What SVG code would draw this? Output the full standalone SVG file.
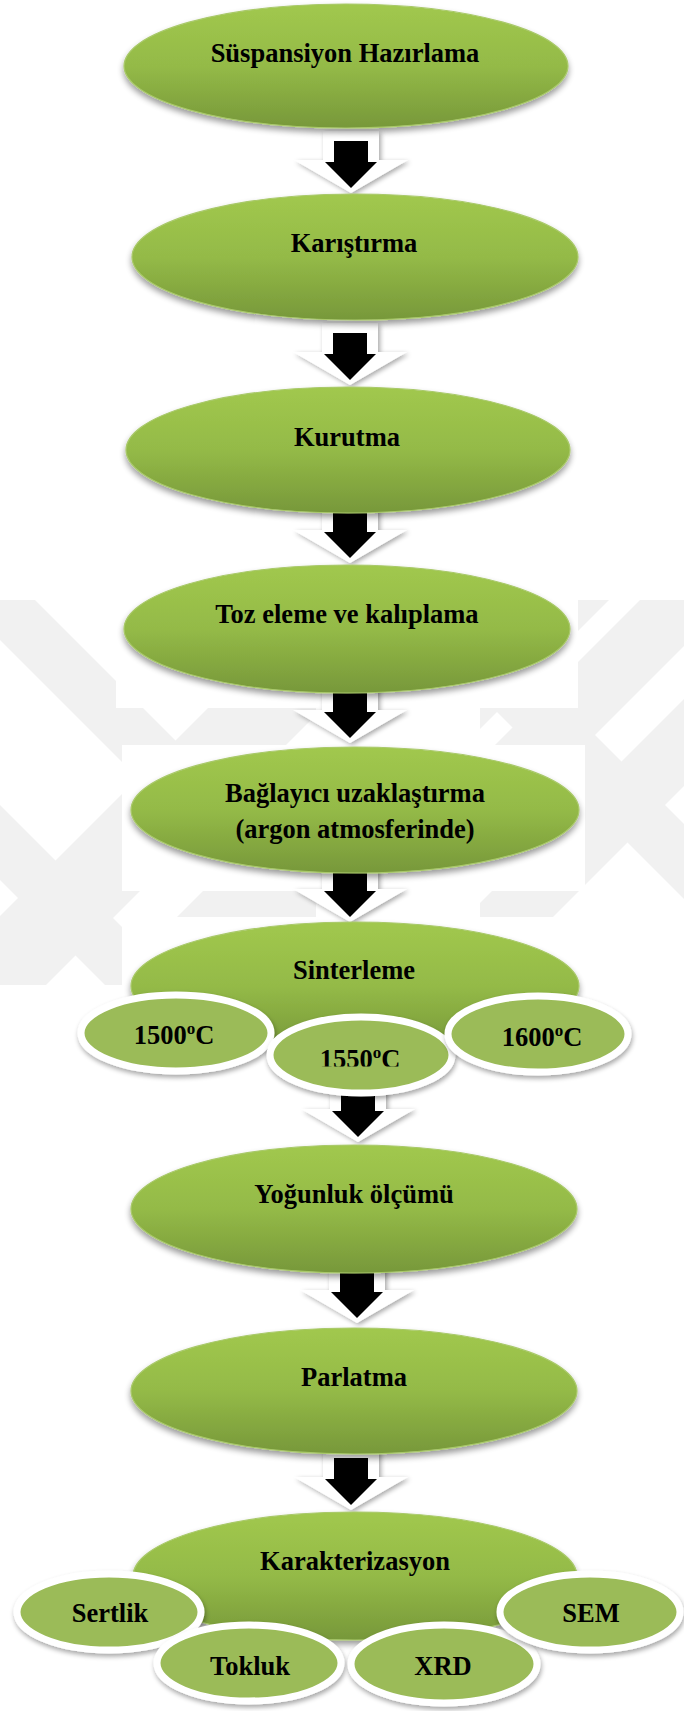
<svg xmlns="http://www.w3.org/2000/svg" width="684" height="1711" viewBox="0 0 684 1711">
<style>
.t{font-family:"Liberation Serif","Times New Roman",serif;font-weight:bold;font-size:26.5px;text-anchor:middle;fill:#000}
.main{fill:url(#g);stroke:#a9c96a;stroke-width:1.2;filter:url(#sh)}
.sub{fill:#9bbb59;stroke:#fff;stroke-width:7;filter:url(#sh2)}
.aw{fill:#fff;filter:url(#ash)}
.ab{fill:#000}
.wm{fill:#f1f1f1}
.wr{fill:#fff}
</style>
<defs>
<linearGradient id="g" x1="0" y1="0" x2="0" y2="1">
<stop offset="0" stop-color="#a1c84e"/>
<stop offset="0.5" stop-color="#94ba47"/>
<stop offset="1" stop-color="#77983a"/>
</linearGradient>
<filter id="sh" x="-10%" y="-15%" width="120%" height="140%">
<feGaussianBlur in="SourceAlpha" stdDeviation="3"/>
<feOffset dx="0" dy="4"/>
<feComponentTransfer><feFuncA type="linear" slope="0.4"/></feComponentTransfer>
<feMerge><feMergeNode/><feMergeNode in="SourceGraphic"/></feMerge>
</filter>
<filter id="sh2" x="-15%" y="-20%" width="130%" height="150%">
<feGaussianBlur in="SourceAlpha" stdDeviation="2.5"/>
<feOffset dx="1" dy="3"/>
<feComponentTransfer><feFuncA type="linear" slope="0.35"/></feComponentTransfer>
<feMerge><feMergeNode/><feMergeNode in="SourceGraphic"/></feMerge>
</filter>
<filter id="ash" x="-30%" y="-30%" width="160%" height="160%">
<feGaussianBlur in="SourceAlpha" stdDeviation="2.5"/>
<feOffset dx="2" dy="2"/>
<feComponentTransfer><feFuncA type="linear" slope="0.35"/></feComponentTransfer>
<feMerge><feMergeNode/><feMergeNode in="SourceGraphic"/></feMerge>
</filter>
<clipPath id="wmclip"><rect x="0" y="600" width="684" height="385"/></clipPath>
<clipPath id="c1550"><rect x="280" y="1000" width="160" height="66.5"/></clipPath>
<path id="arrowW" d="M-28,-62 H28 V-33 H57 L0,0 L-57,-33 H-28 Z"/>
<path id="arrowB" d="M-17,-52 H17 V-31 H26 L0,-5 L-26,-31 H-17 Z"/>
</defs>
<rect width="684" height="1711" fill="#fff"/>
<g id="watermark">
<g clip-path="url(#wmclip)">
<polygon class="wm" points="655,585 745,585 345,985 255,985"/>
<polygon class="wm" points="331,585 446,585 46,985 -69,985"/>
<polygon class="wm" points="509,585 624,585 224,985 109,985"/>
<polygon class="wm" points="798,585 885,585 485,985 398,985"/>
<polygon class="wm" points="-55,585 20,585 420,985 345,985"/>
<polygon class="wm" points="370,585 445,585 845,985 770,985"/>
<polygon class="wm" points="-295,585 -220,585 180,985 105,985"/>
</g>
<rect class="wr" x="116" y="560" width="462" height="148"/>
<rect class="wr" x="316" y="707" width="164" height="39"/>
<rect class="wr" x="122" y="745" width="463" height="146"/>
<rect class="wr" x="316" y="890" width="164" height="28"/>
<rect class="wr" x="122" y="917" width="459" height="70"/>
</g>
<g id="connectors">
<g transform="translate(351,193)"><use href="#arrowW" class="aw"/><use href="#arrowB" class="ab"/></g>
<g transform="translate(350,385)"><use href="#arrowW" class="aw"/><use href="#arrowB" class="ab"/></g>
<g transform="translate(350,563)"><use href="#arrowW" class="aw"/><use href="#arrowB" class="ab"/></g>
<g transform="translate(350,743)"><use href="#arrowW" class="aw"/><use href="#arrowB" class="ab"/></g>
<g transform="translate(350,922)"><use href="#arrowW" class="aw"/><use href="#arrowB" class="ab"/></g>
<g transform="translate(358,1142)"><use href="#arrowW" class="aw"/><use href="#arrowB" class="ab"/></g>
<g transform="translate(357,1323)"><use href="#arrowW" class="aw"/><use href="#arrowB" class="ab"/></g>
<g transform="translate(351,1510)"><use href="#arrowW" class="aw"/><use href="#arrowB" class="ab"/></g>
</g>
<g id="n1"><ellipse class="main" cx="346" cy="66" rx="222" ry="62"/><text class="t" x="345" y="62">Süspansiyon Hazırlama</text></g>
<g id="n2"><ellipse class="main" cx="355" cy="257" rx="223" ry="63"/><text class="t" x="354" y="252">Karıştırma</text></g>
<g id="n3"><ellipse class="main" cx="348" cy="450" rx="222" ry="63"/><text class="t" x="347" y="446">Kurutma</text></g>
<g id="n4"><ellipse class="main" cx="347" cy="629" rx="223" ry="64"/><text class="t" x="347" y="623">Toz eleme ve kalıplama</text></g>
<g id="n5"><ellipse class="main" cx="355" cy="810" rx="224" ry="63"/><text class="t" x="355" y="802">Bağlayıcı uzaklaştırma</text><text class="t" x="355" y="838">(argon atmosferinde)</text></g>
<g id="n6"><ellipse class="main" cx="355" cy="986" rx="224" ry="64"/><text class="t" x="354" y="979">Sinterleme</text></g>
<g id="n6a"><ellipse class="sub" cx="176" cy="1033" rx="95" ry="38"/><text class="t" x="174" y="1044">1500<tspan font-size="17" dy="-10">o</tspan><tspan dy="10">C</tspan></text></g>
<g id="n6b"><ellipse class="sub" cx="361" cy="1055" rx="91" ry="38"/><text class="t" x="360" y="1068" clip-path="url(#c1550)">1550<tspan font-size="17" dy="-10">o</tspan><tspan dy="10">C</tspan></text></g>
<g id="n6c"><ellipse class="sub" cx="538" cy="1034" rx="90" ry="38"/><text class="t" x="542" y="1046">1600<tspan font-size="17" dy="-10">o</tspan><tspan dy="10">C</tspan></text></g>
<g id="n7"><ellipse class="main" cx="354" cy="1209" rx="223" ry="64"/><text class="t" x="354" y="1203">Yoğunluk ölçümü</text></g>
<g id="n8"><ellipse class="main" cx="354" cy="1391" rx="223" ry="63"/><text class="t" x="354" y="1386">Parlatma</text></g>
<g id="n9"><ellipse class="main" cx="355" cy="1576" rx="222" ry="64"/><text class="t" x="355" y="1570">Karakterizasyon</text></g>
<g id="n9a"><ellipse class="sub" cx="109" cy="1612" rx="92" ry="38"/><text class="t" x="110" y="1622">Sertlik</text></g>
<g id="n9b"><ellipse class="sub" cx="249" cy="1663" rx="92" ry="38"/><text class="t" x="250" y="1675">Tokluk</text></g>
<g id="n9c"><ellipse class="sub" cx="444" cy="1664" rx="93" ry="39"/><text class="t" x="443" y="1675">XRD</text></g>
<g id="n9d"><ellipse class="sub" cx="590" cy="1612" rx="90" ry="38"/><text class="t" x="591" y="1622">SEM</text></g>
</svg>
